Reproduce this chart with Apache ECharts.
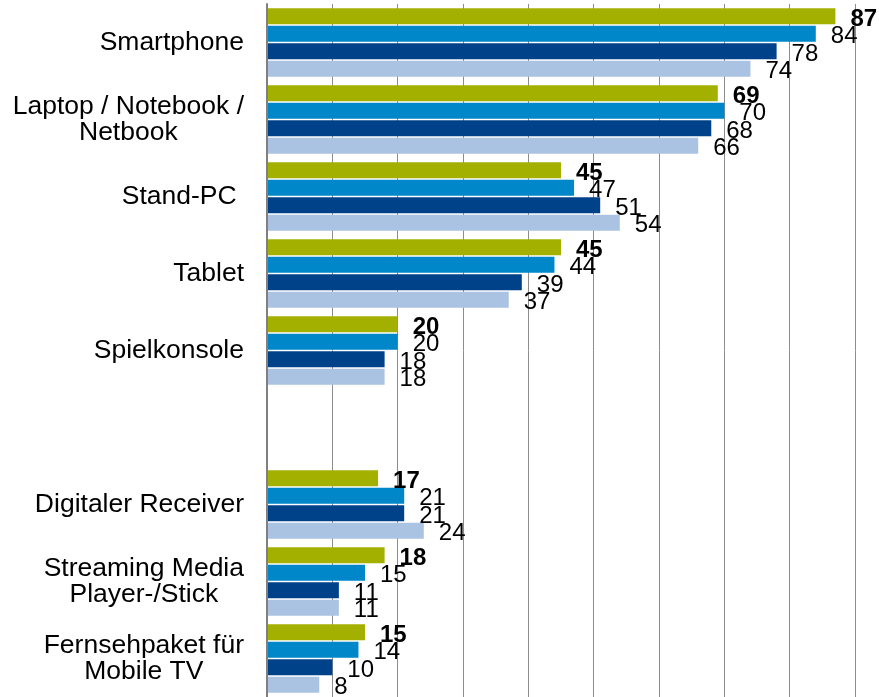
<!DOCTYPE html>
<html>
<head>
<meta charset="utf-8">
<script src="https://cdn.jsdelivr.net/npm/echarts@6/dist/echarts.min.js"></script>
<style>
  html, body { margin: 0; padding: 0; background: #fff; }
  #chart { width: 879px; height: 697px; }
</style>
</head>
<body>
<div id="chart"></div>
<script>
// categories (empty one is the gap between the two blocks)
const categories = [
  "Smartphone",
  "Laptop / Notebook /\nNetbook",
  "Stand-PC ",
  "Tablet",
  "Spielkonsole",
  "",
  "Digitaler Receiver",
  "Streaming Media\nPlayer-/Stick",
  "Fernsehpaket für\nMobile TV",
];

// four series, top bar to bottom bar in each group
const serie1 = [87, 69, 45, 45, 20, null, 17, 18, 15];
const serie2 = [84, 70, 47, 44, 20, null, 21, 15, 14];
const serie3 = [78, 68, 51, 39, 18, null, 21, 11, 10];
const serie4 = [74, 66, 54, 37, 18, null, 24, 11, 8];

const colors = ["#a4b000", "#0087c9", "#00428a", "#abc3e3"];
const font = "'Liberation Sans', Arial, sans-serif";

const chartInstance = echarts.init(document.getElementById("chart"), null, {
  renderer: "canvas",
});

const makeSeries = (data, i) => ({
  type: "bar",
  data: data,
  barWidth: 16,
  barGap: "9%",
  itemStyle: { color: colors[i] },
  label: {
    show: true,
    position: "right",
    distance: 15,
    offset: [0, 3],
    color: "#000",
    fontFamily: font,
    fontSize: 24,
    fontWeight: i === 0 ? "bold" : "normal",
  },
  silent: true,
  animation: false,
});

const option = {
  grid: {
    left: 267,
    right: 24,
    top: 4,
    height: 694,
  },
  xAxis: {
    type: "value",
    min: 0,
    max: 90,
    interval: 10,
    axisLabel: { show: false },
    axisTick: { show: false },
    axisLine: { show: false },
    splitLine: {
      show: true,
      lineStyle: { color: "#8c8c8c", width: 1 },
    },
  },
  yAxis: {
    type: "category",
    inverse: true,
    data: categories,
    z: 3,
    axisTick: { show: false },
    axisLine: {
      show: true,
      lineStyle: { color: "#808080", width: 2 },
    },
    axisLabel: {
      margin: 23,
      color: "#000",
      fontFamily: font,
      fontSize: 26.5,
      lineHeight: 26,
      formatter: (v) =>
        v.split("\n").map((l) => "{c|" + l + "}").join("\n"),
      rich: {
        c: {
          align: "center",
          fontFamily: font,
          fontSize: 26.5,
          lineHeight: 26,
          color: "#000",
        },
      },
    },
  },
  series: [serie1, serie2, serie3, serie4].map(makeSeries),
};

chartInstance.setOption(option);
</script>
</body>
</html>
